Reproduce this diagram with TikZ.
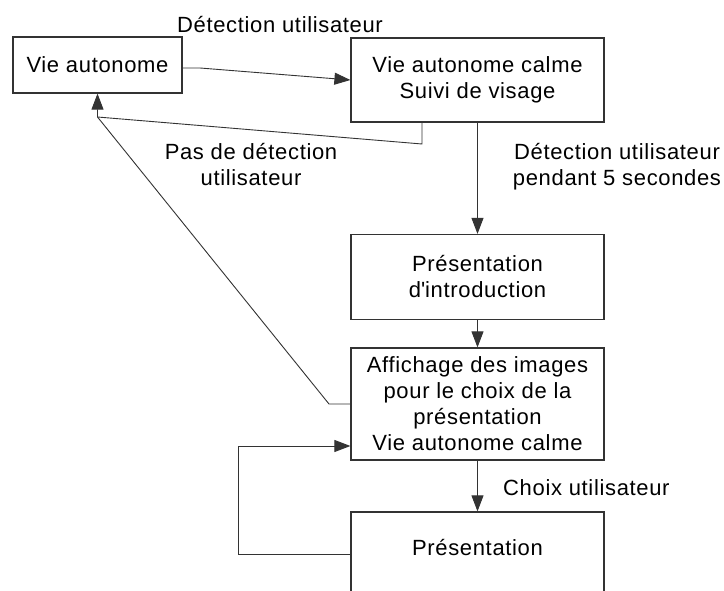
\documentclass[tikz,border=0pt]{standalone}
\usepackage{fontspec}
\setmainfont{Liberation Sans}[LetterSpace=3]
\usetikzlibrary{arrows.meta}
\begin{document}
\begin{tikzpicture}[x=1pt,y=-1pt,
  every node/.style={font=\fontsize{22}{26}\selectfont, text=black},
  box/.style={draw=black!80, line width=1.2pt, rectangle, inner sep=0pt, align=center, fill=white},
  conn/.style={draw=black!80, line width=0.9pt},
  arr/.style={conn, -{Triangle[length=16pt,width=12pt]}},
  lbl/.style={align=center, inner sep=0pt}
]
\useasboundingbox (0,0) rectangle (724,591);
\clip (0,0) rectangle (724,591);
\node[box, minimum width=169pt, minimum height=56pt] (A) at (97.5,65) {Vie autonome};
\node[box, minimum width=253pt, minimum height=84pt] (B) at (477.5,80) {Vie autonome calme\\Suivi de visage};
\node[box, minimum width=253pt, minimum height=85pt] (C) at (477.5,277) {Présentation\\d\textquotesingle introduction};
\node[box, minimum width=253pt, minimum height=112pt] (D) at (477.5,404) {Affichage des images\\pour le choix de la\\présentation\\Vie autonome calme};
\node[box, minimum width=253pt, minimum height=96pt] (E) at (477.5,560) {Présentation\\\mbox{}};

\coordinate (j) at (97.5,117);

\draw[arr] ([yshift=-3pt]A.east) -- (200,68) -- (B.west);
\draw[arr] (B.south) -- (C.north);
\draw[arr] (C.south) -- (D.north);
\draw[arr] (D.south) -- (E.north);
\draw[arr] ([xshift=-55.5pt]B.south) -- (422,144) -- (j) -- (A.south);
\draw[conn] (D.west) -- (329,404) -- (j);
\draw[arr] ([yshift=6pt]E.west) -- (238,554) -- (238,446) -- ([yshift=-42pt]D.west);

\node[lbl, anchor=base] (l1) at (280,33) {Détection utilisateur};
\node[lbl] (l2) at (617,167) {Détection utilisateur\\pendant 5 secondes};
\node[lbl] (l3) at (251,165) {Pas de détection\\utilisateur};
\node[lbl, anchor=base west] (l4) at (503,495) {Choix utilisateur};
\end{tikzpicture}
\end{document}
